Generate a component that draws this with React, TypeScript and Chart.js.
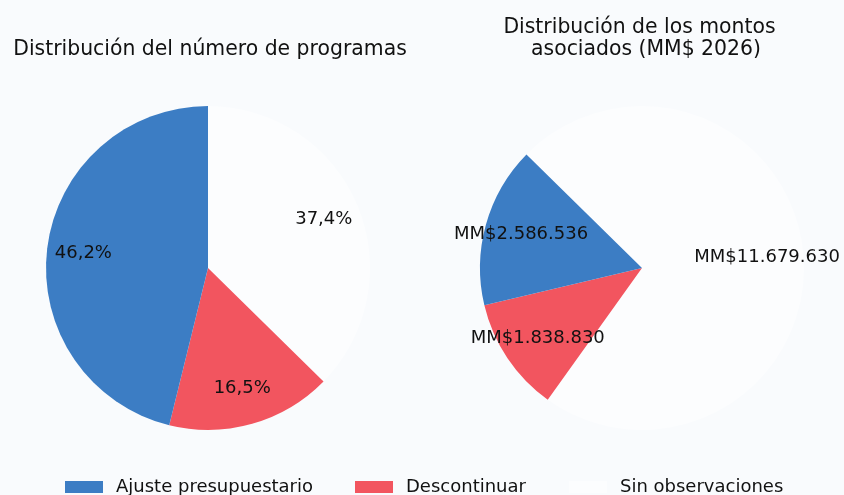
import React, { useEffect, useRef } from "react";
import { Chart, registerables } from "chart.js";

Chart.register(...registerables);

// ---- data ----
const categories = ["Ajuste presupuestario", "Descontinuar", "Sin observaciones"];
const programShares = [46.2, 16.5, 37.4];
const amounts = [2586536, 1838830, 11679630];
const sliceColors = ["#3C7DC4", "#F2555F", "#FCFDFE"];
const leftTitle = "Distribución del número de programas";
const rightTitleLines = ["Distribución de los montos", "asociados (MM$ 2026)"];

const fmtPct = (v: number) => v.toFixed(1).replace(".", ",") + "%";
const fmtAmount = (v: number) =>
  "MM$" + String(Math.round(v)).replace(/\B(?=(\d{3})+(?!\d))/g, ".");

const BG = "#F9FBFD";
const FONT = "'DejaVu Sans', sans-serif";
const W = 844;
const H = 495;

const sliceLabelPlugin = {
  id: "sliceLabels",
  afterDatasetsDraw(chart: any) {
    const opts = chart.options.plugins.sliceLabels;
    if (!opts) return;
    const ctx = chart.ctx;
    const meta = chart.getDatasetMeta(0);
    const texts: string[] = opts.texts;
    ctx.save();
    ctx.font = `${opts.size}px ${FONT}`;
    ctx.fillStyle = "#111111";
    ctx.textAlign = "center";
    ctx.textBaseline = "middle";
    meta.data.forEach((arc: any, i: number) => {
      const p = arc.getProps(["x", "y", "startAngle", "endAngle", "outerRadius"], true);
      const mid = (p.startAngle + p.endAngle) / 2;
      const r = p.outerRadius * opts.distance;
      ctx.fillText(texts[i], p.x + Math.cos(mid) * r, p.y + Math.sin(mid) * r);
    });
    ctx.restore();
  },
};

type PieProps = {
  values: number[];
  texts: string[];
  rotation: number;
  padding: { left: number; right: number; top: number; bottom: number };
};

// matplotlib draws counter-clockwise; Chart.js clockwise -> reverse order
function PieCanvas({ values, texts, rotation, padding }: PieProps) {
  const ref = useRef<HTMLCanvasElement | null>(null);
  useEffect(() => {
    if (!ref.current) return;
    const rev = <T,>(a: T[]) => a.slice().reverse();
    const chart = new Chart(ref.current, {
      type: "pie",
      data: {
        labels: rev(categories),
        datasets: [
          {
            data: rev(values),
            backgroundColor: rev(sliceColors),
            borderWidth: 0,
          },
        ],
      },
      options: {
        responsive: false,
        animation: false,
        events: [],
        rotation,
        layout: { padding },
        plugins: {
          legend: { display: false },
          tooltip: { enabled: false },
          title: { display: false },
          sliceLabels: { texts: rev(texts), distance: 0.775, size: 18 },
        } as any,
      },
      plugins: [sliceLabelPlugin],
    });
    return () => chart.destroy();
  }, []);
  return (
    <canvas
      ref={ref}
      width={W}
      height={H}
      style={{ position: "absolute", left: 0, top: 0, width: W, height: H }}
    />
  );
}

const textStyle: React.CSSProperties = {
  position: "absolute",
  fontFamily: FONT,
  color: "#111111",
  whiteSpace: "pre",
};

function Title({ text, cx, top }: { text: string; cx: number; top: number }) {
  return (
    <div
      style={{
        ...textStyle,
        left: cx - 300,
        width: 600,
        top,
        textAlign: "center",
        fontSize: 20.4,
        lineHeight: "24px",
      }}
    >
      {text}
    </div>
  );
}

const legendSwatchX = [65, 355, 569];

export default function App() {
  const total = programShares.reduce((a, b) => a + b, 0);
  return (
    <div
      style={{
        position: "fixed",
        left: 0,
        top: 0,
        width: W,
        height: H,
        background: BG,
        overflow: "hidden",
      }}
    >
      <PieCanvas
        values={programShares}
        texts={programShares.map((v) => fmtPct((v / total) * 100))}
        rotation={0}
        padding={{ left: 46, right: W - 370, top: 106, bottom: H - 430 }}
      />
      <PieCanvas
        values={amounts}
        texts={amounts.map(fmtAmount)}
        rotation={-45.5}
        padding={{ left: 480, right: W - 804, top: 106, bottom: H - 430 }}
      />
      <Title text={leftTitle} cx={210} top={36} />
      <Title text={rightTitleLines[0]} cx={639.5} top={14} />
      <Title text={rightTitleLines[1]} cx={646} top={36} />
      {categories.map((c, i) => (
        <div key={c}>
          <div
            style={{
              position: "absolute",
              left: legendSwatchX[i],
              top: 481,
              width: 38,
              height: 12,
              background: sliceColors[i],
            }}
          />
          <div
            style={{
              ...textStyle,
              left: legendSwatchX[i] + 51,
              top: 475,
              fontSize: 18,
              lineHeight: "21px",
            }}
          >
            {c}
          </div>
        </div>
      ))}
    </div>
  );
}
